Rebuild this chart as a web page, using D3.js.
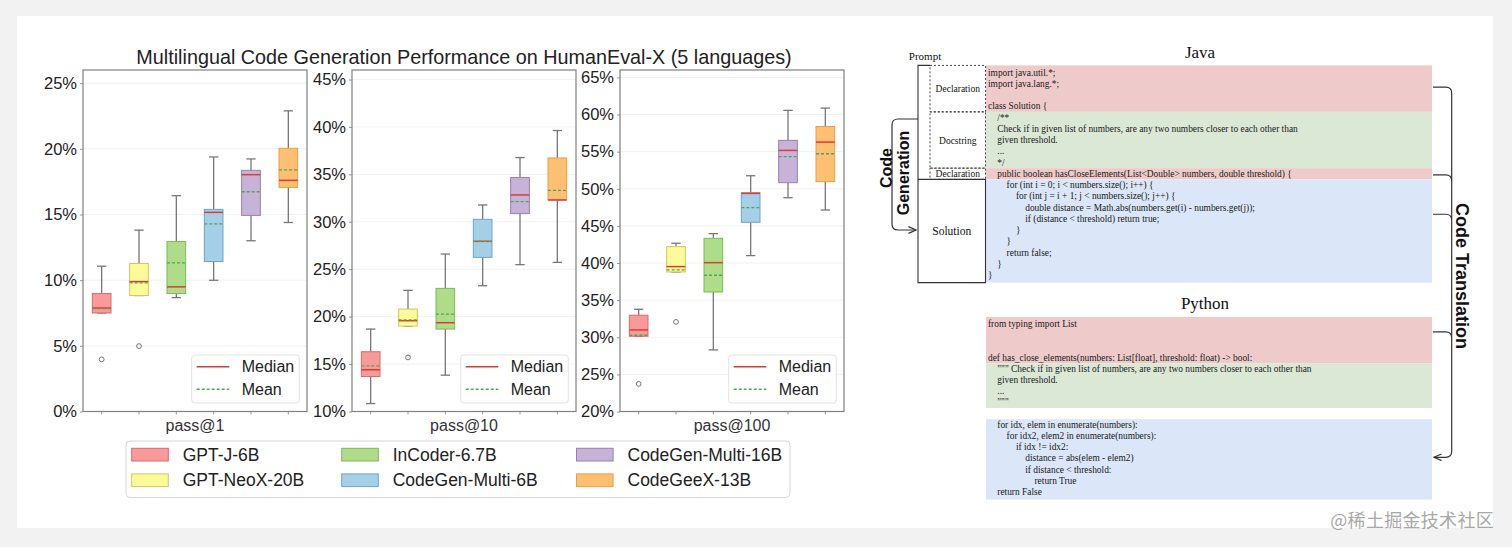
<!DOCTYPE html>
<html>
<head>
<meta charset="utf-8">
<script src="https://cdn.jsdelivr.net/npm/d3@7"></script>
<style>
  body { margin: 0; background: #f2f2f2; }
  svg { display: block; }
</style>
</head>
<body>
<div class="plot"></div>
<script>
// Models and metrics
var models = ["GPT-J-6B", "GPT-NeoX-20B", "InCoder-6.7B", "CodeGen-Multi-6B", "CodeGen-Multi-16B", "CodeGeeX-13B"];
var modelFill = ["#f89a9a", "#fdfb99", "#afdc88", "#a5cfe6", "#c7b3d7", "#fdbf72"];
var modelStroke = ["#dc6a6a", "#cfc85f", "#7cba58", "#6aa6cc", "#987eb4", "#eb9e45"];
var metrics = ["pass@1", "pass@10", "pass@100"];

// Box statistics (%), one array per metric, order = models
var pass1Low  = [7.50, 8.83, 8.67, 9.99, 13.00, 14.39];
var pass1Q1   = [7.50, 8.83, 8.98, 11.42, 14.93, 17.06];
var pass1Med  = [7.88, 9.89, 9.49, 15.16, 18.03, 17.60];
var pass1Q3   = [8.98, 11.27, 12.94, 15.39, 18.36, 20.04];
var pass1High = [11.06, 13.81, 16.43, 19.38, 19.23, 22.89];
var pass1Mean = [7.83, 9.79, 11.32, 14.29, 16.73, 18.39];
var pass1Out  = [[3.97], [4.98], [], [], [], []];

var pass10Low  = [10.84, 19.00, 13.83, 23.26, 25.48, 25.72];
var pass10Q1   = [13.69, 19.00, 18.69, 26.25, 30.86, 32.30];
var pass10Med  = [14.40, 19.57, 19.36, 27.94, 32.83, 32.30];
var pass10Q3   = [16.30, 20.80, 22.98, 30.26, 34.66, 36.73];
var pass10High = [18.69, 22.77, 26.60, 31.77, 36.77, 39.62];
var pass10Mean = [14.82, 19.66, 20.27, 27.94, 32.12, 33.32];
var pass10Out  = [[], [15.70], [], [], [], []];

var pass100Low  = [30.14, 38.80, 28.30, 41.00, 48.80, 47.14];
var pass100Q1   = [30.14, 38.80, 36.10, 45.48, 50.82, 50.96];
var pass100Med  = [30.99, 39.52, 40.05, 49.38, 55.17, 56.29];
var pass100Q3   = [32.97, 42.20, 43.33, 49.47, 56.52, 58.40];
var pass100High = [33.77, 42.66, 43.96, 51.76, 60.56, 60.87];
var pass100Mean = [30.27, 39.07, 38.35, 47.46, 54.32, 54.72];
var pass100Out  = [[23.72], [32.07], [], [], [], []];

// Y tick labels per panel
var pass1Ticks = [0, 5, 10, 15, 20, 25];
var pass10Ticks = [10, 15, 20, 25, 30, 35, 40, 45];
var pass100Ticks = [20, 25, 30, 35, 40, 45, 50, 55, 60, 65];

// Code listings: [indent level, text]
var javaLines = [
  [0, "import java.util.*;"], [0, "import java.lang.*;"], [0, ""], [0, "class Solution {"],
  [1, "/**"], [1, "Check if in given list of numbers, are any two numbers closer to each other than"],
  [1, "given threshold."], [1, "..."], [1, "*/"],
  [1, "public boolean hasCloseElements(List<Double> numbers, double threshold) {"],
  [2, "for (int i = 0; i < numbers.size(); i++) {"], [3, "for (int j = i + 1; j < numbers.size(); j++) {"],
  [4, "double distance = Math.abs(numbers.get(i) - numbers.get(j));"],
  [4, "if (distance < threshold) return true;"], [3, "}"], [2, "}"], [2, "return false;"], [1, "}"], [0, "}"]
];
var javaSections = [["Declaration", 0, 3, "#eecbca"], ["Docstring", 4, 8, "#dbe8d6"], ["Declaration", 9, 9, "#eecbca"], ["Solution", 10, 18, "#dbe6f8"]];

var pythonLines = [
  [0, "from typing import List"], [0, ""], [0, ""],
  [0, "def has_close_elements(numbers: List[float], threshold: float) -> bool:"],
  [1, "\"\"\" Check if in given list of numbers, are any two numbers closer to each other than"],
  [1, "given threshold."], [1, "..."], [1, "\"\"\""], [0, ""],
  [1, "for idx, elem in enumerate(numbers):"], [2, "for idx2, elem2 in enumerate(numbers):"],
  [3, "if idx != idx2:"], [4, "distance = abs(elem - elem2)"], [4, "if distance < threshold:"],
  [5, "return True"], [1, "return False"]
];
var pythonSections = [[0, 3, "#eecbca"], [4, 7, "#dbe8d6"], [9, 15, "#dbe6f8"]];

var outerWidth = 1512, outerHeight = 547;
var sans = "'Liberation Sans', Arial, Helvetica, sans-serif";
var serif = "'Liberation Serif', 'Times New Roman', serif";

var svg = d3.select(".plot").append("svg")
    .attr("width", outerWidth)
    .attr("height", outerHeight);

svg.append("rect").attr("width", outerWidth).attr("height", outerHeight).attr("fill", "#f2f2f2");
svg.append("rect").attr("x", 17).attr("y", 16).attr("width", 1476).attr("height", 512).attr("fill", "white");

// Arrow marker
svg.append("defs").append("marker")
    .attr("id", "arrow").attr("viewBox", "0 0 10 10")
    .attr("refX", 9).attr("refY", 5)
    .attr("markerWidth", 7).attr("markerHeight", 7)
    .attr("orient", "auto-start-reverse")
  .append("path").attr("d", "M0,1 L9,5 L0,9").attr("fill", "none").attr("stroke", "#333").attr("stroke-width", 1.4);

// ---------- Box plots ----------
var panels = [
  {metric: metrics[0], left: 83, right: 307, domain: [0, 26], ticks: pass1Ticks,
   low: pass1Low, q1: pass1Q1, med: pass1Med, q3: pass1Q3, high: pass1High, mean: pass1Mean, out: pass1Out},
  {metric: metrics[1], left: 352, right: 576, domain: [10, 46], ticks: pass10Ticks,
   low: pass10Low, q1: pass10Q1, med: pass10Med, q3: pass10Q3, high: pass10High, mean: pass10Mean, out: pass10Out},
  {metric: metrics[2], left: 620, right: 844, domain: [20, 66], ticks: pass100Ticks,
   low: pass100Low, q1: pass100Q1, med: pass100Med, q3: pass100Q3, high: pass100High, mean: pass100Mean, out: pass100Out}
];
var plotTop = 70, plotBottom = 411.5;

svg.append("text")
    .attr("x", 464).attr("y", 57)
    .attr("text-anchor", "middle").attr("dominant-baseline", "central")
    .style("font-family", sans).style("font-size", "19.8px").attr("fill", "#222")
    .text("Multilingual Code Generation Performance on HumanEval-X (5 languages)");

panels.forEach(function (p) {
  var g = svg.append("g");
  var xScale = d3.scaleBand().domain(models).range([p.left, p.right]).paddingInner(0.5).paddingOuter(0.25);
  var yScale = d3.scaleLinear().domain(p.domain).range([plotBottom, plotTop]);
  var bw = xScale.bandwidth();

  // faint grid
  g.selectAll(".grid").data(p.ticks).enter().append("line")
      .attr("x1", p.left).attr("x2", p.right)
      .attr("y1", function (d) { return yScale(d); }).attr("y2", function (d) { return yScale(d); })
      .attr("stroke", "#f1f1f1").attr("stroke-width", 1);

  // y axis
  var yAxis = d3.axisLeft(yScale).tickValues(p.ticks).tickSize(3).tickPadding(3)
      .tickFormat(function (d) { return d + "%"; });
  var ya = g.append("g").attr("transform", "translate(" + p.left + ",0)").call(yAxis);
  ya.select(".domain").remove();
  ya.selectAll("line").attr("stroke", "#999");
  ya.selectAll("text").style("font-family", sans).style("font-size", "16.5px").attr("fill", "#222");

  // x axis ticks
  var xAxis = d3.axisBottom(xScale).tickSize(3).tickFormat("");
  var xa = g.append("g").attr("transform", "translate(0," + plotBottom + ")").call(xAxis);
  xa.select(".domain").remove();
  xa.selectAll("line").attr("stroke", "#999");

  g.append("text")
      .attr("x", (p.left + p.right) / 2).attr("y", 425)
      .attr("text-anchor", "middle").attr("dominant-baseline", "central")
      .style("font-family", sans).style("font-size", "16px").attr("fill", "#333")
      .text(p.metric);

  var idx = d3.range(models.length);
  var cx = function (i) { return xScale(models[i]) + bw / 2; };

  // whiskers
  g.selectAll(".wlo").data(idx).enter().append("line")
      .attr("x1", cx).attr("x2", cx)
      .attr("y1", function (i) { return yScale(p.low[i]); }).attr("y2", function (i) { return yScale(p.q1[i]); })
      .attr("stroke", "#777").attr("stroke-width", 1.3);
  g.selectAll(".whi").data(idx).enter().append("line")
      .attr("x1", cx).attr("x2", cx)
      .attr("y1", function (i) { return yScale(p.high[i]); }).attr("y2", function (i) { return yScale(p.q3[i]); })
      .attr("stroke", "#777").attr("stroke-width", 1.3);
  [p.low, p.high].forEach(function (arr) {
    g.selectAll(null).data(idx).enter().append("line")
        .attr("x1", function (i) { return cx(i) - bw / 4; }).attr("x2", function (i) { return cx(i) + bw / 4; })
        .attr("y1", function (i) { return yScale(arr[i]); }).attr("y2", function (i) { return yScale(arr[i]); })
        .attr("stroke", "#777").attr("stroke-width", 1.3);
  });

  // boxes
  g.selectAll(".box").data(idx).enter().append("rect")
      .attr("x", function (i) { return xScale(models[i]); })
      .attr("width", bw)
      .attr("y", function (i) { return yScale(p.q3[i]); })
      .attr("height", function (i) { return yScale(p.q1[i]) - yScale(p.q3[i]); })
      .attr("fill", function (i) { return modelFill[i]; })
      .attr("stroke", function (i) { return modelStroke[i]; })
      .attr("stroke-width", 1);

  // medians
  g.selectAll(".med").data(idx).enter().append("line")
      .attr("x1", function (i) { return xScale(models[i]); }).attr("x2", function (i) { return xScale(models[i]) + bw; })
      .attr("y1", function (i) { return yScale(p.med[i]); }).attr("y2", function (i) { return yScale(p.med[i]); })
      .attr("stroke", "#e03a32").attr("stroke-width", 1.5);
  // means
  g.selectAll(".mean").data(idx).enter().append("line")
      .attr("x1", function (i) { return xScale(models[i]); }).attr("x2", function (i) { return xScale(models[i]) + bw; })
      .attr("y1", function (i) { return yScale(p.mean[i]); }).attr("y2", function (i) { return yScale(p.mean[i]); })
      .attr("stroke", "#4fa84f").attr("stroke-width", 1.3).attr("stroke-dasharray", "3,2");

  // outliers
  var outs = [];
  p.out.forEach(function (arr, i) { arr.forEach(function (v) { outs.push([i, v]); }); });
  g.selectAll(".out").data(outs).enter().append("circle")
      .attr("cx", function (d) { return cx(d[0]); })
      .attr("cy", function (d) { return yScale(d[1]); })
      .attr("r", 2.4).attr("fill", "none").attr("stroke", "#666").attr("stroke-width", 0.9);

  // frame
  g.append("rect").attr("x", p.left).attr("y", plotTop)
      .attr("width", p.right - p.left).attr("height", plotBottom - plotTop)
      .attr("fill", "none").attr("stroke", "#808080").attr("stroke-width", 1.2);

  // inner legend
  var lx = p.right - 115.3, ly = plotBottom - 56.5;
  var lg = g.append("g").attr("transform", "translate(" + lx + "," + ly + ")");
  lg.append("rect").attr("width", 107.6).attr("height", 48).attr("rx", 3)
      .attr("fill", "white").attr("fill-opacity", 0.85).attr("stroke", "#e2e2e2");
  [["Median", "#e03a32", null, 11.7], ["Mean", "#4fa84f", "3,2", 34.3]].forEach(function (e) {
    lg.append("line").attr("x1", 5).attr("x2", 37.6).attr("y1", e[3]).attr("y2", e[3])
        .attr("stroke", e[1]).attr("stroke-width", 1.5).attr("stroke-dasharray", e[2]);
    lg.append("text").attr("x", 50).attr("y", e[3]).attr("dominant-baseline", "central")
        .style("font-family", sans).style("font-size", "16px").attr("fill", "#222").text(e[0]);
  });
});

// bottom legend
var legend = svg.append("g");
legend.append("rect").attr("x", 126).attr("y", 441).attr("width", 664).attr("height", 56.5).attr("rx", 4)
    .attr("fill", "white").attr("stroke", "#d6d6d6");
var legCols = [131.7, 341.7, 576.5];
var legRows = [454.6, 480.2];
models.forEach(function (m, i) {
  var col = Math.floor(i / 2), row = i % 2;
  legend.append("rect").attr("x", legCols[col]).attr("y", legRows[row] - 6.3)
      .attr("width", 36.6).attr("height", 12.7)
      .attr("fill", modelFill[i]).attr("stroke", modelStroke[i]);
  legend.append("text").attr("x", legCols[col] + 51).attr("y", legRows[row])
      .attr("dominant-baseline", "central")
      .style("font-family", sans).style("font-size", "17.5px").attr("fill", "#222").text(m);
});

// ---------- Code diagram ----------
var codeLeft = 986, codeRight = 1432, indent = 9.3;
var javaY = d3.scaleLinear().domain([0, 1]).range([72.5, 83.75]);
var pyY = d3.scaleLinear().domain([0, 1]).range([324, 335.2]);
var half = 5.6;

svg.append("text").attr("x", 1200).attr("y", 52).attr("text-anchor", "middle").attr("dominant-baseline", "central")
    .style("font-family", serif).style("font-size", "17px").attr("fill", "#111").text("Java");
svg.append("text").attr("x", 1205).attr("y", 303).attr("text-anchor", "middle").attr("dominant-baseline", "central")
    .style("font-family", serif).style("font-size", "17px").attr("fill", "#111").text("Python");

function sectionTop(scale, s, first) { return scale(s) - half - (first ? 1.5 : 0); }
function sectionBottom(scale, e, last) { return scale(e) + half + (last ? 2 : 0); }

javaSections.forEach(function (s, k) {
  svg.append("rect").attr("x", codeLeft).attr("width", codeRight - codeLeft)
      .attr("y", sectionTop(javaY, s[1], k === 0))
      .attr("height", sectionBottom(javaY, s[2], k === javaSections.length - 1) - sectionTop(javaY, s[1], k === 0))
      .attr("fill", s[3]);
});
pythonSections.forEach(function (s, k) {
  svg.append("rect").attr("x", codeLeft).attr("width", codeRight - codeLeft)
      .attr("y", sectionTop(pyY, s[0], k === 0))
      .attr("height", sectionBottom(pyY, s[1], k === pythonSections.length - 1) - sectionTop(pyY, s[0], k === 0))
      .attr("fill", s[2]);
});

function drawCode(lines, scale) {
  svg.append("g").selectAll("text").data(lines).enter().append("text")
      .attr("x", function (d) { return codeLeft + 2 + d[0] * indent; })
      .attr("y", function (d, i) { return scale(i); })
      .attr("dominant-baseline", "central")
      .style("font-family", serif).style("font-size", "9.4px").attr("fill", "#1a1a1a")
      .text(function (d) { return d[1]; });
}
drawCode(javaLines, javaY);
drawCode(pythonLines, pyY);

// Prompt / Solution labels on the left
var boxL = 930, boxR = 985.5, outerL = 918;
svg.append("text").attr("x", 925).attr("y", 56).attr("text-anchor", "middle").attr("dominant-baseline", "central")
    .style("font-family", serif).style("font-size", "11px").attr("fill", "#111").text("Prompt");
javaSections.slice(0, 3).forEach(function (s, k) {
  var t = sectionTop(javaY, s[1], k === 0), b = sectionBottom(javaY, s[2], false);
  svg.append("rect").attr("x", boxL).attr("y", t).attr("width", boxR - boxL).attr("height", b - t)
      .attr("fill", "none").attr("stroke", "#444").attr("stroke-width", 1).attr("stroke-dasharray", "2,2");
  svg.append("text").attr("x", (boxL + boxR) / 2).attr("y", (t + b) / 2 + 0.5)
      .attr("text-anchor", "middle").attr("dominant-baseline", "central")
      .style("font-family", serif).style("font-size", "9.5px").attr("fill", "#111").text(s[0]);
});
var promptTop = sectionTop(javaY, 0, true);
var solTop = sectionTop(javaY, 10, false), solBottom = sectionBottom(javaY, 18, true);
svg.append("path")
    .attr("d", "M" + boxL + "," + promptTop + " H" + outerL + " V" + solBottom + " H" + boxR + " V" + solTop + " H" + outerL)
    .attr("fill", "none").attr("stroke", "#333").attr("stroke-width", 1.1);
svg.append("text").attr("x", (outerL + boxR) / 2).attr("y", (solTop + solBottom) / 2)
    .attr("text-anchor", "middle").attr("dominant-baseline", "central")
    .style("font-family", serif).style("font-size", "11.5px").attr("fill", "#111").text("Solution");

// Code Generation bracket
svg.append("path")
    .attr("d", "M918,119 H898 Q892,119 892,125 V224 Q892,230 898,230 H916")
    .attr("fill", "none").attr("stroke", "#333").attr("stroke-width", 1.2).attr("marker-end", "url(#arrow)");
[["Code", 886, 168], ["Generation", 903, 173]].forEach(function (t) {
  svg.append("text").attr("transform", "translate(" + t[1] + "," + t[2] + ") rotate(-90)")
      .attr("text-anchor", "middle").attr("dominant-baseline", "central")
      .style("font-family", sans).style("font-size", "16px").style("font-weight", "bold").attr("fill", "#111").text(t[0]);
});

// Code Translation bracket
var bx = 1451.7;
var joins = [javaY(1.3), javaY(9.1), javaY(12.6), pyY(0.7)];
var d = "";
joins.forEach(function (y) { d += "M1433," + y + " H" + (bx - 6) + " Q" + bx + "," + y + " " + bx + "," + (y + 6) + " "; });
var arrowY = pyY(11.9);
d += "M" + bx + "," + (joins[0] + 6) + " V" + (arrowY - 6) + " Q" + bx + "," + arrowY + " " + (bx - 6) + "," + arrowY + " H1434";
svg.append("path").attr("d", d).attr("fill", "none").attr("stroke", "#333").attr("stroke-width", 1.2).attr("marker-end", "url(#arrow)");
svg.append("text").attr("transform", "translate(1462,276) rotate(90)")
    .attr("text-anchor", "middle").attr("dominant-baseline", "central")
    .style("font-family", sans).style("font-size", "18px").style("font-weight", "bold").attr("fill", "#111").text("Code Translation");

// watermark
svg.append("text").attr("x", 1494).attr("y", 519).attr("text-anchor", "end").attr("dominant-baseline", "central")
    .style("font-family", "'Noto Sans CJK SC', sans-serif").style("font-size", "18px").style("letter-spacing", "0.3px")
    .attr("fill", "#a8a8a8")
    .text("@稀土掘金技术社区");
</script>
</body>
</html>
